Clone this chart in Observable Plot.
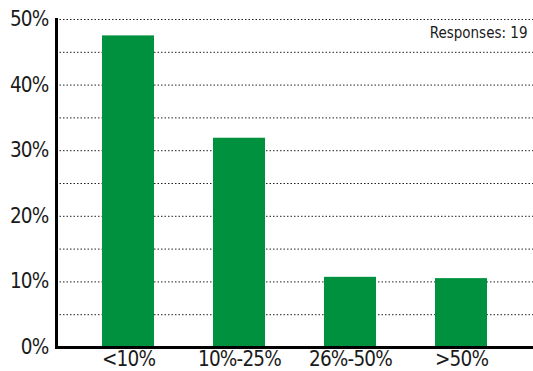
<!DOCTYPE html>
<html><head>
<meta charset="utf-8">
<script src="https://cdn.jsdelivr.net/npm/d3@7"></script>
<script src="https://cdn.jsdelivr.net/npm/@observablehq/plot@0.6"></script>
<style>body{margin:0;background:#fff}</style>
</head><body><div id="chart"></div>
<script>
const categories = ["<10%", "10%-25%", "26%-50%", ">50%"];
const values = [47.5, 31.9, 10.7, 10.5];
const gridTicks = [5, 10, 15, 20, 25, 30, 35, 40, 45, 50];
const labelTicks = [0, 10, 20, 30, 40, 50];
const note = "Responses: 19";

const data = categories.map((c, i) => ({category: c, value: values[i]}));

const chart = Plot.plot({
  width: 533, height: 371,
  marginTop: 19, marginBottom: 24, marginLeft: 56, marginRight: 0,
  style: {fontFamily: "'Liberation Sans Narrow', 'DejaVu Sans Condensed', sans-serif", fontSize: "20px", color: "#1a1a1a", background: "#fff", letterSpacing: "-0.8px"},
  x: {domain: categories, paddingInner: 0.536, paddingOuter: 0.3975, label: null},
  y: {domain: [0, 50], label: null},
  marks: [
    Plot.ruleY(gridTicks, {stroke: "#222", strokeDasharray: "1.5,2", strokeWidth: 1}),
    Plot.barY(data, {x: "category", y: "value", fill: "#00913f"}),
    Plot.axisY(labelTicks, {tickSize: 0, tickPadding: 8, tickFormat: d => d + "%", fontSize: 20.5, label: null}),
    Plot.axisX({tickSize: 0, tickPadding: 4, fontSize: 20.5, label: null}),
    Plot.frame({anchor: "left", stroke: "#000", strokeWidth: 3}),
    Plot.ruleY([0], {stroke: "#000", strokeWidth: 3}),
    Plot.text([note], {frameAnchor: "top-right", dx: -6, dy: 8, fontSize: 15})
  ]
});
d3.select(chart).selectAll("text").filter(function() { return this.textContent === note; })
  .style("letter-spacing", "0px");
document.getElementById("chart").appendChild(chart);
</script>
</body></html>
